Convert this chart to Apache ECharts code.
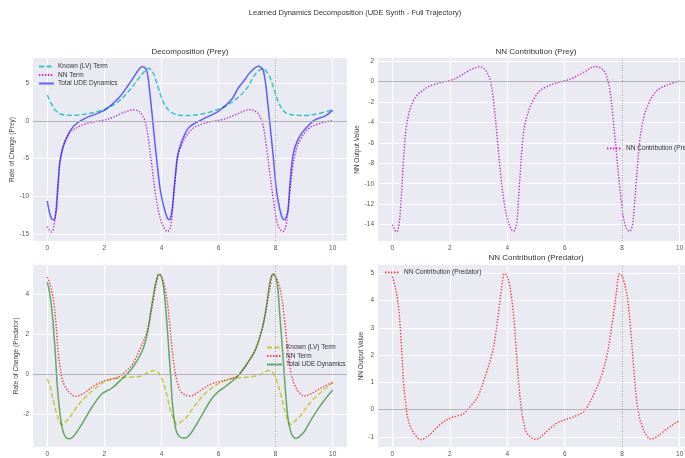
<!DOCTYPE html>
<html><head><meta charset="utf-8">
<script src="https://cdn.jsdelivr.net/npm/echarts@6/dist/echarts.min.js"></script>
<style>html,body{margin:0;padding:0;background:#fff}#c{width:685px;height:458px}</style>
</head><body><div id="c"></div>
<script>
// ---------- DATA ----------
const preyKnownT = [0,0.23,0.41,0.64,0.99,1.34,1.69,2.04,2.5,2.85,3.2,3.4,3.55,3.7,3.78,3.9,4.01,4.12,4.24,4.48,4.83,5.29,5.76,6.22,6.69,7.04,7.2,7.4,7.56,7.7,7.79,7.88,7.97,8.05,8.14,8.32,8.55,9.01,9.48,10];
const preyKnownV = [3.4,1.68,1.0,0.75,0.72,0.88,1.15,1.55,2.56,3.9,5.6,6.5,6.95,6.4,5.65,4.2,3.0,2.1,1.46,0.88,0.7,0.8,1.23,1.9,3.1,4.55,5.7,6.6,6.9,6.4,5.87,4.9,3.88,2.9,2.12,1.15,0.8,0.7,0.93,1.45];

const preyNNT = [0,0.08,0.15,0.22,0.29,0.38,0.47,0.56,0.64,0.75,0.87,1.05,1.22,1.45,1.69,2.04,2.3,2.62,2.85,3.02,3.2,3.32,3.43,3.55,3.66,3.78,3.9,4.0,4.07,4.15,4.22,4.28,4.34,4.42,4.54,4.62,4.71,4.82,4.94,5.1,5.29,5.5,5.76,6.22,6.69,7.04,7.15,7.28,7.39,7.48,7.56,7.67,7.79,7.91,8.02,8.1,8.18,8.26,8.32,8.37,8.43,8.49,8.61,8.7,8.78,8.9,9.01,9.2,9.36,9.7,10];
const preyNNV = [-14.0,-14.5,-14.7,-14.2,-12.2,-8.0,-4.8,-3.3,-2.5,-1.8,-1.3,-0.9,-0.55,-0.3,-0.1,0.13,0.45,1.0,1.3,1.45,1.25,0.75,-0.1,-2.6,-5.8,-9.4,-12.0,-13.4,-14.0,-14.5,-14.65,-14.4,-13.6,-10.2,-5.6,-4.1,-3.2,-2.3,-1.65,-1.0,-0.62,-0.35,-0.1,0.26,0.95,1.45,1.45,1.25,0.95,0.3,-0.6,-3.2,-6.7,-10.2,-12.9,-14.0,-14.5,-14.65,-14.4,-13.8,-12.0,-9.8,-5.8,-4.2,-3.2,-2.3,-1.63,-0.9,-0.6,-0.2,0.03];

const preyTotalT = [0,0.08,0.16,0.23,0.3,0.35,0.43,0.5,0.58,0.7,0.82,1.05,1.34,1.69,2.04,2.5,2.85,3.05,3.2,3.31,3.4,3.49,3.55,3.6,3.66,3.72,3.84,3.95,4.05,4.13,4.2,4.27,4.33,4.38,4.43,4.48,4.57,4.71,4.94,5.18,5.52,5.99,6.45,6.69,6.92,7.04,7.2,7.39,7.48,7.56,7.62,7.67,7.73,7.79,7.91,8.02,8.14,8.24,8.32,8.38,8.43,8.51,8.61,8.78,9.01,9.36,9.71,10];
const preyTotalV = [-10.6,-12.2,-13.0,-13.1,-12.3,-10.2,-5.8,-4.3,-3.2,-2.1,-1.2,-0.3,0.35,0.88,1.46,3.0,4.77,5.9,6.75,7.15,7.1,6.5,5.2,3.44,1.3,-0.97,-5.4,-8.9,-10.9,-12.0,-12.8,-13.1,-12.7,-11.6,-9.6,-7.6,-4.5,-2.74,-0.97,-0.31,0.35,1.23,2.78,4.33,5.43,6.1,6.75,7.2,7.05,6.75,5.6,4.33,2.1,-0.09,-4.5,-8.9,-11.6,-12.9,-13.1,-12.6,-12.0,-8.0,-4.5,-2.5,-1.2,0.1,0.57,1.4];

const predKnownT = [0,0.1,0.17,0.26,0.35,0.43,0.5,0.58,0.7,0.85,0.99,1.15,1.34,1.69,2.04,2.5,2.96,3.3,3.55,3.7,3.78,3.86,3.95,4.04,4.13,4.22,4.3,4.39,4.48,4.55,4.62,4.72,4.83,5.0,5.18,5.52,5.99,6.45,7.04,7.4,7.6,7.72,7.8,7.88,7.96,8.05,8.13,8.22,8.3,8.4,8.5,8.58,8.7,8.85,9.0,9.3,9.6,10];
const predKnownV = [-0.22,-0.6,-1.05,-1.6,-2.05,-2.38,-2.52,-2.45,-2.3,-2.02,-1.72,-1.42,-1.13,-0.68,-0.35,-0.18,-0.13,-0.08,0.12,0.18,0.2,0.15,-0.05,-0.3,-0.72,-1.2,-1.72,-2.1,-2.38,-2.52,-2.45,-2.33,-2.22,-1.9,-1.55,-0.97,-0.47,-0.22,-0.13,-0.05,0.1,0.18,0.18,0.12,-0.05,-0.35,-0.75,-1.2,-1.7,-2.2,-2.5,-2.48,-2.3,-2.1,-1.8,-1.28,-0.87,-0.42];

const predNNT = [0,0.1,0.17,0.23,0.29,0.34,0.38,0.45,0.52,0.62,0.76,0.99,1.2,1.34,1.69,2.04,2.3,2.5,2.7,2.96,3.2,3.49,3.6,3.72,3.82,3.9,3.97,4.07,4.15,4.22,4.29,4.36,4.43,4.5,4.57,4.65,4.8,4.94,5.1,5.29,5.5,5.76,6.0,6.22,6.45,6.69,7.04,7.3,7.5,7.6,7.7,7.8,7.9,7.97,8.1,8.2,8.3,8.4,8.5,8.6,8.7,8.8,9.0,9.2,9.5,9.8,10];
const predNNV = [4.87,4.5,4.1,3.6,2.78,1.9,1.1,0.35,-0.22,-0.6,-0.88,-1.1,-1.0,-0.88,-0.52,-0.3,-0.22,-0.13,0.1,0.45,1.12,2.12,2.8,3.78,4.6,4.98,4.95,4.62,4.1,3.45,2.5,1.45,0.6,-0.05,-0.45,-0.8,-1.0,-1.08,-1.05,-0.88,-0.68,-0.47,-0.37,-0.3,-0.2,-0.05,0.62,1.3,2.13,2.8,3.5,4.3,4.97,4.95,4.55,3.97,2.88,1.55,0.38,-0.28,-0.62,-0.87,-1.08,-1.0,-0.75,-0.53,-0.4];

const predTotalT = [0,0.08,0.17,0.27,0.35,0.41,0.47,0.52,0.58,0.66,0.76,0.88,0.99,1.22,1.57,1.92,2.27,2.62,2.96,3.31,3.49,3.66,3.78,3.84,3.9,3.96,4.04,4.1,4.15,4.21,4.27,4.33,4.38,4.44,4.5,4.57,4.65,4.75,4.83,5.06,5.41,5.76,6.0,6.22,6.69,7.04,7.3,7.5,7.6,7.7,7.78,7.86,7.93,8.0,8.07,8.15,8.25,8.35,8.45,8.55,8.62,8.7,8.8,9.0,9.2,9.5,9.8,10];
const predTotalV = [4.62,4.1,3.1,1.28,-0.55,-1.5,-2.22,-2.65,-2.97,-3.15,-3.22,-3.15,-2.97,-2.47,-1.63,-0.97,-0.68,-0.22,0.28,1.12,1.95,3.45,4.45,4.78,5.0,5.0,4.62,4.1,3.28,2.2,0.95,-0.25,-1.38,-2.2,-2.72,-3.0,-3.13,-3.18,-3.18,-2.88,-2.05,-1.22,-0.85,-0.63,-0.05,0.62,1.25,2.13,2.72,3.63,4.45,4.95,5.02,4.85,4.4,2.88,1.05,-0.95,-2.37,-2.95,-3.12,-3.2,-3.15,-2.87,-2.37,-1.7,-1.12,-0.78];

const xTicks = [0,2,4,6,8,10];
const yTicksPrey = [-15,-10,-5,0,5];
const yTicksNNPrey = [-14,-12,-10,-8,-6,-4,-2,0,2];
const yTicksPred = [-2,0,2,4];
const yTicksNNPred = [-1,0,1,2,3,4,5];

// ---------- CHART ----------
const FONT = 'Liberation Sans, Arial, sans-serif';
const zip = (t, v) => t.map((x, i) => [x, v[i]]);
const chart = echarts.init(document.getElementById('c'), null, {renderer: 'canvas'});

const grids = [
  {left: 33, top: 58, width: 314, height: 183},
  {left: 378, top: 58, width: 316, height: 183},
  {left: 33, top: 265, width: 314, height: 182},
  {left: 378, top: 265, width: 316, height: 182}
].map(g => Object.assign(g, {show: true, backgroundColor: '#EAEAF2', borderWidth: 0, containLabel: false, outerBoundsMode: 'none'}));

const yRanges = [[-15.9, 8.3, yTicksPrey], [-15.6, 2.3, yTicksNNPrey], [-3.63, 5.47, yTicksPred], [-1.37, 5.3, yTicksNNPred]];
const yNames = ['Rate of Change (Prey)', 'NN Output Value', 'Rate of Change (Predator)', 'NN Output Value'];
const yGaps = [16, 15, 11, 10];

const xAxes = [0,1,2,3].map(i => ({
  type: 'value', gridIndex: i, min: -0.5, max: 10.5,
  axisLine: {show: false},
  axisTick: {show: false, customValues: xTicks},
  axisLabel: {customValues: xTicks, fontSize: 6.5, color: '#555', margin: 4, fontFamily: FONT},
  splitLine: {show: true, lineStyle: {color: '#fff', width: 1}},
  name: i >= 2 ? 'Time' : '', nameLocation: 'middle', nameGap: 10,
  nameTextStyle: {fontSize: 7, color: '#444', fontFamily: FONT}
}));
const yAxes = [0,1,2,3].map(i => ({
  type: 'value', gridIndex: i, min: yRanges[i][0], max: yRanges[i][1],
  axisLine: {show: false},
  axisTick: {show: false, customValues: yRanges[i][2]},
  axisLabel: {customValues: yRanges[i][2], fontSize: 6.5, color: '#555', margin: 4, fontFamily: FONT},
  splitLine: {show: true, lineStyle: {color: '#fff', width: 1}},
  name: yNames[i], nameLocation: 'middle', nameGap: yGaps[i], nameRotate: 90,
  nameTextStyle: {fontSize: 6.5, color: '#444', fontFamily: FONT}
}));

function refLines() {
  return {
    silent: true, symbol: ['none', 'none'], label: {show: false}, animation: false,
    data: [
      {yAxis: 0, lineStyle: {color: '#b4b4b8', width: 1, type: 'solid'}},
      {xAxis: 8, lineStyle: {color: '#9a9a9e', width: 1, type: [1, 1.5]}}
    ]
  };
}

function line(name, t, v, i, color, type, width, z, withRef) {
  const s = {
    name, type: 'line', xAxisIndex: i, yAxisIndex: i, data: zip(t, v),
    showSymbol: false, symbol: 'none', smooth: 0.35, z: z || 2,
    lineStyle: {color, width: width || 1.5, type: type || 'solid'},
    itemStyle: {color}, animation: false
  };
  if (withRef) s.markLine = refLines();
  return s;
}

const cyan = 'rgba(0,191,191,0.8)';
const mag = 'rgba(191,0,191,0.8)';
const blue = 'rgba(0,0,255,0.6)';
const yel = 'rgba(191,191,0,0.8)';
const red = 'rgba(255,0,0,0.75)';
const green = 'rgba(0,128,0,0.6)';
const DASH = [5, 2.5];
const DOT = [1.4, 1.6];

const series = [
  line('Known (LV) Term', preyKnownT, preyKnownV, 0, cyan, DASH, 1.5, 3, true),
  line('NN Term', preyNNT, preyNNV, 0, mag, DOT, 1.4, 3),
  line('Total UDE Dynamics', preyTotalT, preyTotalV, 0, blue, 'solid', 1.5, 4),
  line('NN Contribution (Prey)', preyNNT, preyNNV, 1, mag, DOT, 1.4, 3, true),
  line('Known (LV) Term ', predKnownT, predKnownV, 2, yel, DASH, 1.5, 3, true),
  line('NN Term ', predNNT, predNNV, 2, red, DOT, 1.4, 3),
  line('Total UDE Dynamics ', predTotalT, predTotalV, 2, green, 'solid', 1.5, 4),
  line('NN Contribution (Predator)', predNNT, predNNV, 3, red, DOT, 1.4, 3, true)
];

const legendBase = {
  orient: 'vertical', itemWidth: 15, itemHeight: 8, itemGap: 1.5,
  itemStyle: {opacity: 0},
  textStyle: {fontSize: 6.5, color: '#333', fontFamily: FONT, padding: [0, 0, 0, -1]},
  padding: 0
};
const legends = [
  Object.assign({}, legendBase, {left: 38, top: 63, data: ['Known (LV) Term', 'NN Term', 'Total UDE Dynamics']}),
  Object.assign({}, legendBase, {left: 606, top: 145, data: ['NN Contribution (Prey)']}),
  Object.assign({}, legendBase, {left: 266, top: 344, data: ['Known (LV) Term ', 'NN Term ', 'Total UDE Dynamics '], formatter: n => n.trim()}),
  Object.assign({}, legendBase, {left: 384, top: 269, data: ['NN Contribution (Predator)']})
];

const txt = (x, y, text, size, color) => ({
  type: 'text', x, y, silent: true,
  style: {text, fontSize: size, fill: color || '#333', fontFamily: FONT, align: 'center', verticalAlign: 'middle'}
});

chart.setOption({
  backgroundColor: '#ffffff',
  animation: false,
  grid: grids,
  xAxis: xAxes,
  yAxis: yAxes,
  legend: legends,
  series,
  graphic: [
    txt(355, 13, 'Learned Dynamics Decomposition (UDE Synth - Full Trajectory)', 7.5),
    txt(190, 52, 'Decomposition (Prey)', 8),
    txt(536, 52, 'NN Contribution (Prey)', 8),
    txt(536, 258, 'NN Contribution (Predator)', 8)
  ]
});
</script></body></html>
